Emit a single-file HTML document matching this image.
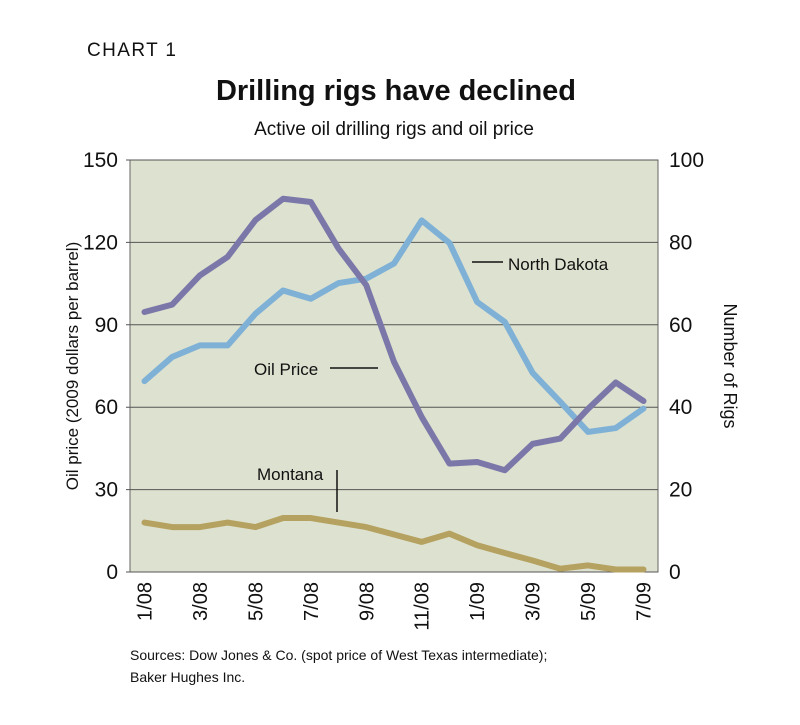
<!DOCTYPE html>
<html><head><meta charset="utf-8"><style>
body{margin:0;background:#fff;width:800px;height:720px;overflow:hidden}
svg text{font-family:"Liberation Sans","DejaVu Sans",sans-serif;fill:#111}
</style></head><body>
<svg id="chart" width="800" height="720" xmlns="http://www.w3.org/2000/svg">
<text x="87" y="56" font-size="19" letter-spacing="2" textLength="91">CHART 1</text>
<text x="396" y="100" font-size="29" font-weight="bold" text-anchor="middle" textLength="360">Drilling rigs have declined</text>
<text x="394" y="135" font-size="19" text-anchor="middle">Active oil drilling rigs and oil price</text>
<rect x="130" y="160" width="528" height="412" fill="#dde1cf" stroke="#666" stroke-width="1"/>
<g id="grid"></g><g id="series"></g><g id="labels"></g>
<text transform="translate(78,366) rotate(-90)" font-size="17" text-anchor="middle">Oil price (2009 dollars per barrel)</text>
<text transform="translate(724,366) rotate(90)" font-size="18" text-anchor="middle">Number of Rigs</text>
<line x1="472" y1="262" x2="503" y2="262" stroke="#111" stroke-width="1.5"/>
<text x="508" y="270" font-size="17">North Dakota</text>
<text x="254" y="375" font-size="17">Oil Price</text>
<line x1="330" y1="368" x2="378" y2="368" stroke="#111" stroke-width="1.5"/>
<text x="257" y="480" font-size="17">Montana</text>
<line x1="337" y1="470" x2="337" y2="512" stroke="#111" stroke-width="1.5"/>
<text x="130" y="660" font-size="14">Sources: Dow Jones &amp; Co. (spot price of West Texas intermediate);</text>
<text x="130" y="682" font-size="14">Baker Hughes Inc.</text>
</svg>
<script>
const months=["1/08","2/08","3/08","4/08","5/08","6/08","7/08","8/08","9/08","10/08","11/08","12/08","1/09","2/09","3/09","4/09","5/09","6/09","7/09"];
const oilPrice=[69.5,78.3,82.5,82.5,94,102.5,99.5,105.2,106.8,112.3,128,119.8,98.3,91,72.5,61.9,51,52.4,59.5];
const northDakota=[63.1,64.9,72,76.5,85.4,90.6,89.8,78.5,69.6,51,37.6,26.3,26.7,24.7,31.1,32.4,39.6,46,41.5];
const montana=[12,10.9,10.9,12,10.9,13.1,13.1,12,10.9,9.1,7.3,9.3,6.5,4.6,2.8,0.8,1.6,0.6,0.6];
const leftTicks=[0,30,60,90,120,150];
const rightTicks=[0,20,40,60,80,100];
const NS="http://www.w3.org/2000/svg";
const x=i=>144.5+i*(643.5-144.5)/(months.length-1);
const yL=v=>572-v/150*412;
const yR=v=>572-v/100*412;
const grid=document.getElementById('grid'),ser=document.getElementById('series'),lab=document.getElementById('labels');
function mk(tag,attrs,parent){const e=document.createElementNS(NS,tag);for(const k in attrs)e.setAttribute(k,attrs[k]);parent.appendChild(e);return e;}
leftTicks.forEach((t,i)=>{
  const y=yL(t);
  const g=mk('line',{x1:126,x2:658,y1:y,y2:y,stroke:'#555','stroke-width':1},grid);
  
  
  const tl=mk('text',{x:118,y:y+7,'font-size':21,'text-anchor':'end'},lab);
  tl.textContent=t;
  
  
});
rightTicks.forEach(t=>{
  const y=yR(t);
  const tr=mk('text',{x:669,y:y+7,'font-size':21},lab);
  tr.textContent=t;
  
  
});
months.forEach((m,i)=>{
  if(i%2)return;
  const t=mk('text',{transform:`translate(${x(i)+7},582) rotate(-90)`,'font-size':20,'text-anchor':'end'},lab);
  t.textContent=m;
  
  
});
function line(vals,f,color,name){
  const p=mk('polyline',{points:vals.map((v,i)=>x(i)+','+f(v)).join(' '),fill:'none',stroke:color,'stroke-width':6,'stroke-linejoin':'round','stroke-linecap':'round'},ser);
  
  
}
line(montana,yR,'#b5a160','montana-line');
line(oilPrice,yL,'#7fb1d6','oil-price-line');
line(northDakota,yR,'#7b78a9','north-dakota-line');
</script>
</body></html>
